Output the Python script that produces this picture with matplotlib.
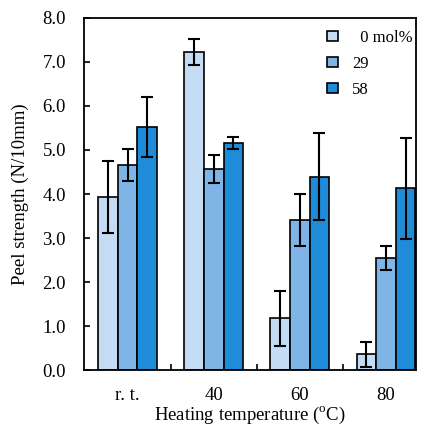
import matplotlib
matplotlib.use("Agg")
import matplotlib.pyplot as plt
import numpy as np

plt.rcParams['font.family'] = ['Liberation Serif', 'DejaVu Serif']
plt.rcParams['mathtext.fontset'] = 'custom'
plt.rcParams['mathtext.rm'] = 'Liberation Serif'

categories = ['r. t.', '40', '60', '80']
series_labels = ['  0 mol%', '29', '58']
values = [
    [3.93, 7.23, 1.18, 0.36],
    [4.66, 4.57, 3.41, 2.55],
    [5.52, 5.16, 4.39, 4.13],
]
errors = [
    [0.82, 0.30, 0.62, 0.28],
    [0.36, 0.32, 0.60, 0.28],
    [0.69, 0.14, 0.99, 1.15],
]
colors = ['#c3dbf3', '#7fb4e6', '#1e8cd8']

fs = 13.5
fig = plt.figure(figsize=(4.29, 4.25), dpi=100)
ax = fig.add_axes([0.196, 0.129, 0.774, 0.829])

x = np.arange(len(categories))
w = 0.228
for i in range(3):
    ax.bar(x + (i - 1) * w, values[i], w, yerr=errors[i], color=colors[i],
           edgecolor='black', linewidth=1.2, label=series_labels[i],
           error_kw=dict(ecolor='black', elinewidth=1.5, capsize=4, capthick=1.5))

ax.set_xlim(-0.505, 3.35)
ax.set_ylim(0, 8)
ax.set_yticks(np.arange(0, 8.1, 1.0))
ax.set_yticklabels([f'{v:.1f}' for v in np.arange(0, 8.1, 1.0)], fontsize=13.5)
ax.set_xticks(x)
ax.set_xticklabels(categories, fontsize=fs)
ax.set_xticks([0.5, 1.5, 2.5], minor=True)
ax.tick_params(axis='x', which='major', length=0, pad=12)
ax.tick_params(axis='x', which='minor', direction='in', length=4, width=1.2)
ax.tick_params(axis='y', direction='in', length=4, width=1.2, pad=13)
for s in ax.spines.values():
    s.set_linewidth(1.3)

ax.set_ylabel('Peel strength (N/10mm)', fontsize=fs, labelpad=10)
ax.set_xlabel('Heating temperature ($^{\\rm o}$C)', fontsize=fs, labelpad=1)

leg = ax.legend(loc='upper left', frameon=False, fontsize=12,
                handlelength=0.62, handleheight=0.62, handletextpad=0.85,
                labelspacing=0.6, borderaxespad=0,
                bbox_to_anchor=(0.713, 0.985))

fig.savefig('out.png', dpi=100)
